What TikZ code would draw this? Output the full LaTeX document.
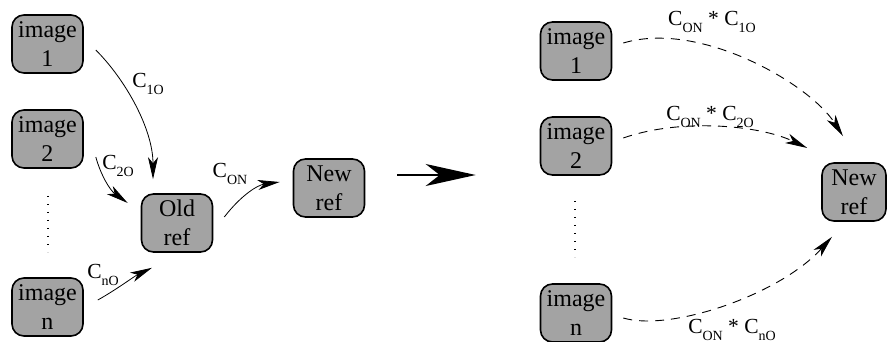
\documentclass[tikz,border=0pt]{standalone}
\usepackage{fontspec}
\setmainfont{Liberation Serif}
\usetikzlibrary{arrows.meta}
\newcommand\lblsub[1]{\raisebox{-0.3em}{\fontsize{14}{14}\selectfont #1}}
\tikzset{
  box/.style={draw, line width=1.6pt, rounded corners=12pt, fill=black!36,
    minimum width=71pt, minimum height=58pt, inner sep=0pt, align=center,
    font=\fontsize{24}{29}\selectfont},
  lbl/.style={font=\fontsize{21.5}{23}\selectfont, inner sep=0pt},
  solidarr/.style={line width=0.8pt, -{Stealth[length=22pt,width=10pt,inset=6pt]}},
  dasharr/.style={line width=0.9pt, dash pattern=on 9pt off 7pt, -{Stealth[length=22pt,width=10pt,inset=6pt]}},
  bigarr/.style={line width=2pt, -{Stealth[length=50pt,width=22pt,inset=14pt]}},
  vdots/.style={line width=1.4pt, dash pattern=on 1.4pt off 6.6pt}
}
\begin{document}
\begin{tikzpicture}[x=1pt,y=-1pt]
\useasboundingbox (0,0) rectangle (887,342);
% left part
\node[box] (L1) at (47.5,44) {image\\1};
\node[box] (L2) at (47.5,139) {image\\2};
\node[box] (Ln) at (47.5,307) {image\\n};
\node[box] (Old) at (177,223) {Old\\ref};
\node[box] (NL) at (329,188) {New\\ref};
\coordinate (LdA) at (48,196);
\coordinate (LdB) at (48,252);
\draw[vdots] (LdA) -- (LdB);
\draw[solidarr] ([shift={(12,6)}]L1.east) .. controls +(30,30) and +(0,-50) .. ([shift={(-24,-14)}]Old.north);
\draw[solidarr] ([shift={(12,18)}]L2.east) .. controls +(5,18) and +(-18,-13) .. ([shift={(-13,-20)}]Old.west);
\draw[solidarr] ([shift={(14,-7)}]Ln.east) .. controls +(18,-10) and +(-17,8) .. ([shift={(-25,15)}]Old.south);
\draw[solidarr] ([shift={(11,-6)}]Old.east) .. controls +(17,-22) and +(-22,3) .. ([shift={(-13,-6)}]NL.west);
\node[lbl] (c1o) at (148,84) {C\lblsub{1O}};
\node[lbl] (c2o) at (118,166) {C\lblsub{2O}};
\node[lbl] (cno) at (103,275) {C\lblsub{nO}};
\node[lbl] (con) at (230,174) {C\lblsub{ON}};
% right part
\node[box] (R1) at (576,51) {image\\1};
\node[box] (R2) at (576,146) {image\\2};
\node[box] (Rn) at (576,313) {image\\n};
\node[box, minimum width=64pt] (RN) at (854,192) {New\\ref};
\coordinate (RdA) at (575,201);
\coordinate (RdB) at (575,257);
\draw[vdots] (RdA) -- (RdB);
\draw[bigarr] ([shift={(32,-13)}]NL.east) -- ([shift={(-64,29)}]R2.west);
\draw[dasharr] ([shift={(11,-8)}]R1.east) .. controls +(77,-23) and +(-33,-52) .. ([shift={(-11,-26)}]RN.north);
\draw[dasharr] ([shift={(11,-8)}]R2.east) .. controls +(57,-20) and +(-48,-23) .. ([shift={(-14,-44)}]RN.west);
\draw[dasharr] ([shift={(11,5)}]Rn.east) .. controls +(47,14) and +(-52,58) .. ([shift={(-22,15)}]RN.south);
\node[lbl] (r1) at (712,22) {C\lblsub{ON} * C\lblsub{1O}};
\node[lbl] (r2) at (710,117) {C\lblsub{ON} * C\lblsub{2O}};
\node[lbl] (rn) at (732,330) {C\lblsub{ON} * C\lblsub{nO}};
\end{tikzpicture}
\end{document}
